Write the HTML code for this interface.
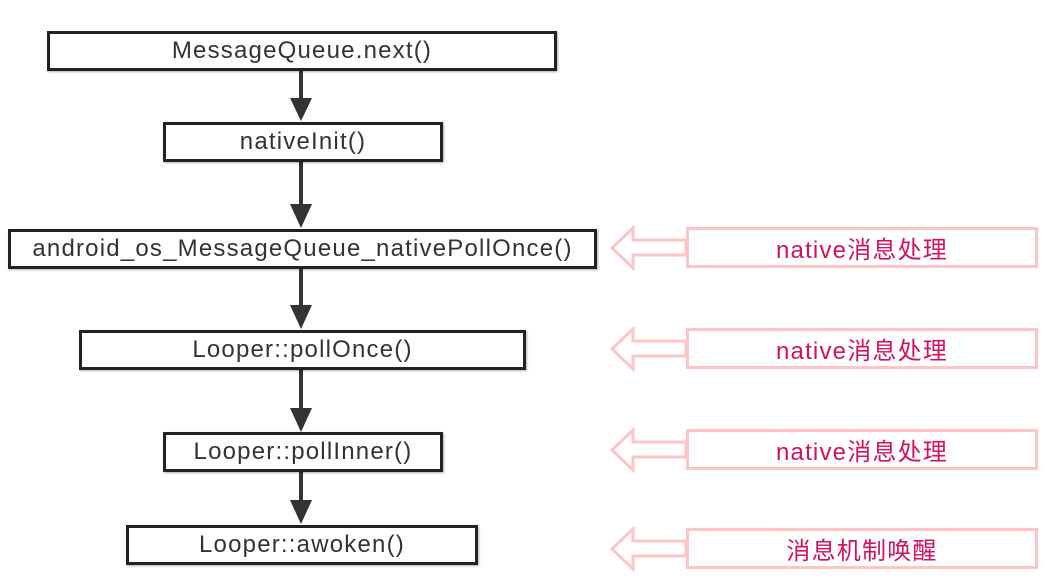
<!DOCTYPE html>
<html><head><meta charset="utf-8"><style>
body{margin:0;background:#fff;width:1052px;height:580px;overflow:hidden;position:relative;font-family:"Liberation Sans","Noto Sans CJK SC",sans-serif}
.b{position:absolute;box-sizing:border-box;border:3px solid #222;background:#fff;display:flex;align-items:center;justify-content:center;font-size:24px;letter-spacing:1.2px;color:#333;box-shadow:1px 1px 2px rgba(0,0,0,.3)}
.p{position:absolute;box-sizing:border-box;border:3px solid #fdc5c5;background:#fff;display:flex;align-items:center;justify-content:center;font-size:24px;letter-spacing:1.2px;color:#d2125e;left:686px;width:352px;height:41px}
svg{position:absolute;left:0;top:0}
</style></head><body>
<svg width="1052" height="580">
<g stroke="#333" stroke-width="4" fill="#333">
<line x1="301" y1="70" x2="301" y2="100"/><polygon points="290,98 312,98 301,121" stroke="none"/>
<line x1="301" y1="161" x2="301" y2="206"/><polygon points="290,204 312,204 301,228" stroke="none"/>
<line x1="301" y1="268" x2="301" y2="307"/><polygon points="290,305 312,305 301,329" stroke="none"/>
<line x1="301" y1="369" x2="301" y2="410"/><polygon points="290,408 312,408 301,432" stroke="none"/>
<line x1="301" y1="471" x2="301" y2="502"/><polygon points="290,500 312,500 301,524" stroke="none"/>
</g>
<g fill="#fff" stroke="#fdc5c5" stroke-width="3">
<polygon points="686,240 633,240 633,228 612,248 633,268 633,255 686,255"/>
<polygon points="686,341 633,341 633,329 612,349 633,369 633,356 686,356"/>
<polygon points="686,442 633,442 633,430 612,450 633,470 633,457 686,457"/>
<polygon points="686,541 633,541 633,529 612,549 633,569 633,556 686,556"/>
</g>
</svg>
<div class="b" style="left:47px;top:31px;width:510px;height:40px">MessageQueue.next()</div>
<div class="b" style="left:163px;top:122px;width:280px;height:40px">nativeInit()</div>
<div class="b" style="left:8px;top:229px;width:589px;height:40px">android_os_MessageQueue_nativePollOnce()</div>
<div class="b" style="left:79px;top:330px;width:447px;height:40px">Looper::pollOnce()</div>
<div class="b" style="left:163px;top:432px;width:280px;height:40px">Looper::pollInner()</div>
<div class="b" style="left:126px;top:525px;width:352px;height:40px">Looper::awoken()</div>
<div class="p" style="top:227px">native消息处理</div>
<div class="p" style="top:328px">native消息处理</div>
<div class="p" style="top:429px">native消息处理</div>
<div class="p" style="top:528px">消息机制唤醒</div>
</body></html>
